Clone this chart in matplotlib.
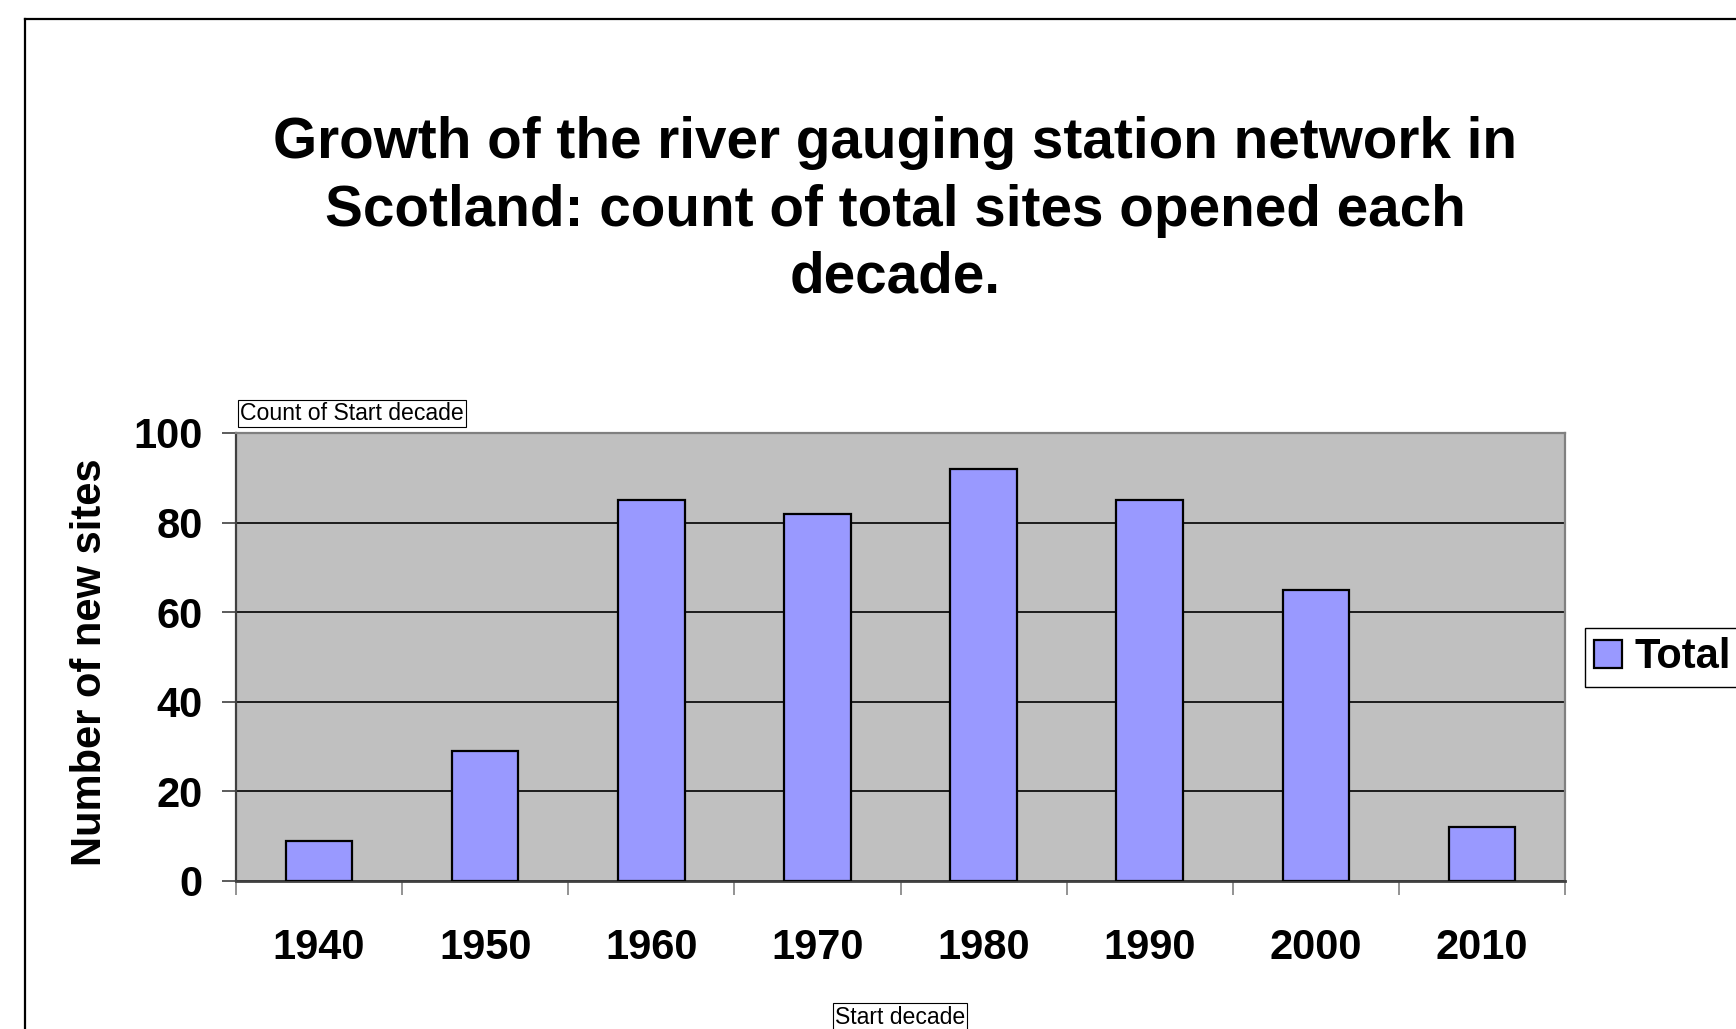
import matplotlib
matplotlib.use("Agg")
import matplotlib.pyplot as plt
from matplotlib.lines import Line2D

plt.rcParams['font.family'] = ['Liberation Sans', 'DejaVu Sans']

decades = ["1940", "1950", "1960", "1970", "1980", "1990", "2000", "2010"]
counts = [9, 29, 85, 82, 92, 85, 65, 12]
series_name = "Total"
title = "Growth of the river gauging station network in\nScotland: count of total sites opened each\ndecade."
ylabel = "Number of new sites"
xlabel = "Start decade"
field_label = "Count of Start decade"
yticks = [0, 20, 40, 60, 80, 100]

W, H = 1736, 1029
fig = plt.figure(figsize=(W / 100, H / 100), dpi=100)
fig.patch.set_facecolor("white")

# outer chart frame (partially cropped)
fl, ft = 25 / W, 1 - 19 / H
fig.add_artist(Line2D([fl, fl], [0, ft], color="black", lw=1.6, transform=fig.transFigure))
fig.add_artist(Line2D([fl, 1.0], [ft, ft], color="black", lw=1.6, transform=fig.transFigure))

left, right, top, bottom = 236 / W, 1565 / W, 1 - 433 / H, 1 - 881 / H
ax = fig.add_axes([left, bottom, right - left, top - bottom])
ax.set_facecolor("#C0C0C0")

x = list(range(len(decades)))
ax.bar(x, counts, width=0.4, color="#9999FF", edgecolor="black", linewidth=1.6,
       label=series_name, zorder=3)

ax.set_xlim(-0.5, len(decades) - 0.5)
ax.set_ylim(0, 100)
ax.set_yticks(yticks)
ax.set_yticklabels([str(v) for v in yticks], fontsize=30, fontweight="bold")
ax.yaxis.grid(True, color="black", lw=1.2, zorder=1)
ax.set_axisbelow(True)
ax.tick_params(axis="y", length=10, width=1.2, color="#404040", pad=14)

ax.set_xticks(x)
ax.set_xticklabels(decades, fontsize=30, fontweight="bold")
ax.tick_params(axis="x", which="major", length=0, pad=34)
ax.set_xticks([i - 0.5 for i in range(len(decades) + 1)], minor=True)
ax.tick_params(axis="x", which="minor", length=10, width=1.2, color="#808080")

for side in ["top", "right"]:
    ax.spines[side].set_color("#808080")
    ax.spines[side].set_linewidth(1.6)
ax.spines["left"].set_color("#404040")
ax.spines["left"].set_linewidth(1.6)
ax.spines["bottom"].set_color("#404040")
ax.spines["bottom"].set_linewidth(2.0)

fig.text(895 / W, 1 - 210.5 / H, title, ha="center", va="center", fontsize=40.8,
         fontweight="bold", linespacing=1.31)

fig.text(90 / W, 1 - 662 / H, ylabel, rotation=90, ha="center", va="center",
         fontsize=30, fontweight="bold")

fig.text(240 / W, 1 - 413.5 / H, field_label, ha="left", va="center", fontsize=16.6,
         bbox=dict(boxstyle="square,pad=0.1", facecolor="white", edgecolor="black", lw=0.8))

fig.text(900 / W, 1 - 1017 / H, xlabel, ha="center", va="center", fontsize=16.6,
         bbox=dict(boxstyle="square,pad=0.1", facecolor="white", edgecolor="black", lw=0.8))

leg = ax.legend(loc="center left", bbox_to_anchor=(1585 / W, 1 - 657.5 / H),
                bbox_transform=fig.transFigure, borderaxespad=0, frameon=True,
                fancybox=False, edgecolor="black", framealpha=1,
                prop=dict(size=30, weight="bold"), handlelength=0.67, handleheight=0.67,
                handletextpad=0.3, borderpad=0.22)
leg.get_frame().set_linewidth(1.0)

fig.savefig("out.png", dpi=100)
